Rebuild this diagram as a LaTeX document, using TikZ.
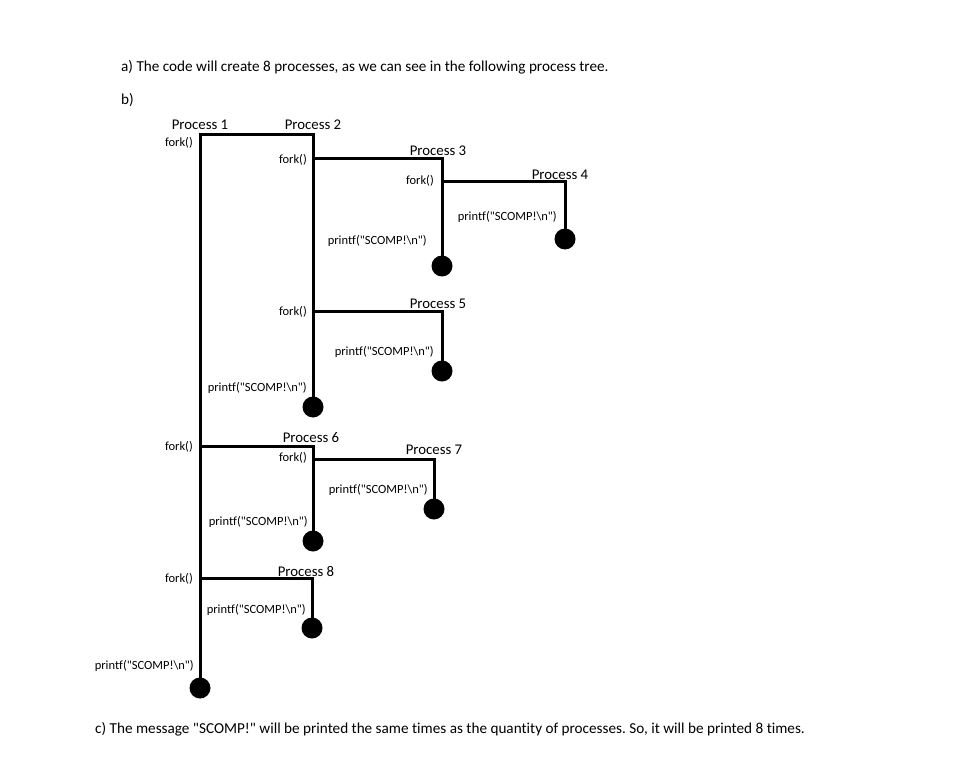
\documentclass[tikz,border=0pt]{standalone}
\usepackage{fontspec}
\setmainfont{Carlito}[Ligatures={TeXOff,NoCommon}]
\frenchspacing
\tikzset{
  tree/.style={line width=3pt},
  leaf/.style={circle,fill=black,inner sep=0pt,minimum size=21pt},
  call/.style={font=\fontsize{12.5}{14}\selectfont,inner sep=0pt,anchor=east},
  proc/.style={font=\fontsize{14.8}{16}\selectfont,inner sep=0pt},
  para/.style={font=\fontsize{15.2}{17}\selectfont,inner sep=0pt,anchor=west}
}
\newcommand{\prtmsg}{printf("SCOMP!\textbackslash n")}
\begin{document}
\begin{tikzpicture}[x=1pt,y=-1pt]
\useasboundingbox (0,0) rectangle (966,762);
% answers
\node[para] (qa) at (121,67) {a) The code will create 8 processes, as we can see in the following process tree.};
\node[para] (qb) at (121,100) {b)};
\node[para] (qc) at (95,729) {c) The message "SCOMP!" will be printed the same times as the quantity of processes. So, it will be printed 8 times.};
% fork points
\coordinate (p1) at (200,135);
\coordinate (p2) at (313,135);
\coordinate (f2) at (313,159);
\coordinate (p3) at (442,159);
\coordinate (f3) at (442,182);
\coordinate (p4) at (565,182);
\coordinate (f5) at (313,311);
\coordinate (p5) at (442,311);
\coordinate (f6) at (200,446);
\coordinate (p6) at (313,446);
\coordinate (f7) at (313,459);
\coordinate (p7) at (434,459);
\coordinate (f8) at (200,578);
\coordinate (p8) at (312,578);
% ends
\node[leaf] (e1) at (200,688) {};
\node[leaf] (e2) at (313,407) {};
\node[leaf] (e3) at (442,266) {};
\node[leaf] (e4) at (565,239) {};
\node[leaf] (e5) at (442,371) {};
\node[leaf] (e6) at (313,541) {};
\node[leaf] (e7) at (434,509) {};
\node[leaf] (e8) at (312,628) {};
% branches
\draw[tree] (e1.center)--(p1)--(p2)--(e2.center);
\draw[tree] (f2)--(p3)--(e3.center);
\draw[tree] (f3)--(p4)--(e4.center);
\draw[tree] (f5)--(p5)--(e5.center);
\draw[tree] (f6)--(p6)--(e6.center);
\draw[tree] (f7)--(p7)--(e7.center);
\draw[tree] (f8)--(p8)--(e8.center);
% process names
\node[proc] (n1) at (200,125) {Process 1};
\node[proc] (n2) at (313,125) {Process 2};
\node[proc] (n3) at (438,151) {Process 3};
\node[proc] (n4) at (560,175) {Process 4};
\node[proc] (n5) at (438,304) {Process 5};
\node[proc] (n6) at (311,438) {Process 6};
\node[proc] (n7) at (434,450) {Process 7};
\node[proc] (n8) at (306,571) {Process 8};
% fork() calls
\node[call] (c1) at (193,143) {fork()};
\node[call] (c2) at (307,160) {fork()};
\node[call] (c3) at (434,181) {fork()};
\node[call] (c5) at (307,312) {fork()};
\node[call] (c6) at (193,447) {fork()};
\node[call] (c7) at (307,458) {fork()};
\node[call] (c8) at (193,579) {fork()};
% printf calls
\node[call] (m4) at (557,217) {\prtmsg};
\node[call] (m3) at (427,241) {\prtmsg};
\node[call] (m5) at (434,352) {\prtmsg};
\node[call] (m2) at (307,388) {\prtmsg};
\node[call] (m7) at (428,490) {\prtmsg};
\node[call] (m6) at (308,522) {\prtmsg};
\node[call] (m8) at (306,610) {\prtmsg};
\node[call] (m1) at (194,666) {\prtmsg};
\end{tikzpicture}
\end{document}
